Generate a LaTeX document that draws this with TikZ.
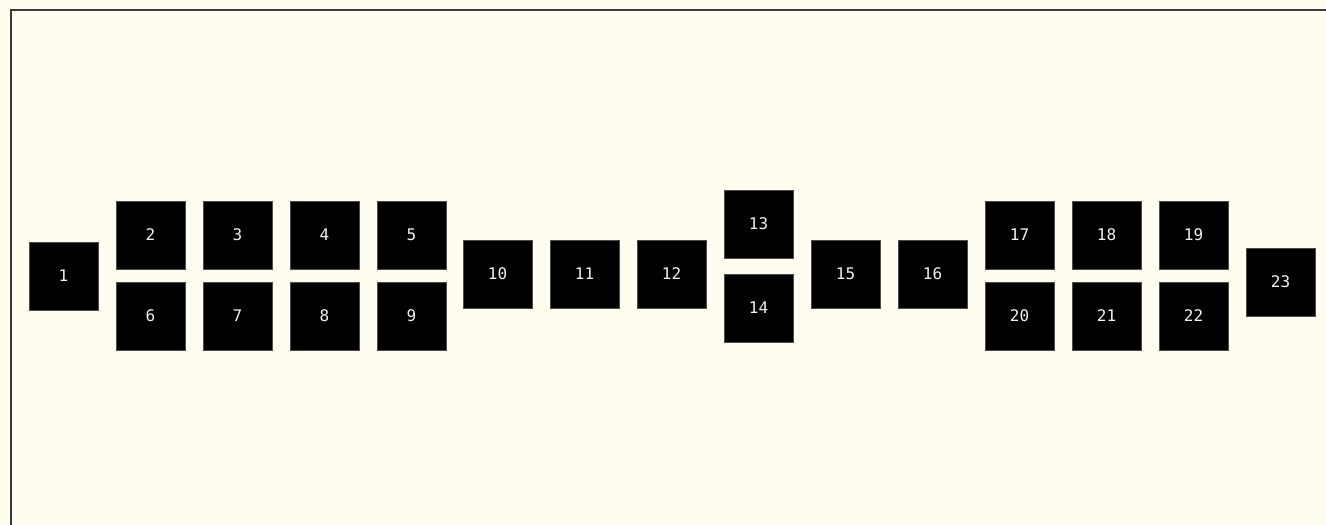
\documentclass[tikz,border=0pt]{standalone}
\usepackage{fontspec}
\setmonofont{DejaVu Sans Mono}
\usetikzlibrary{positioning}
\definecolor{ivory}{HTML}{FFFDF0}
\definecolor{framegray}{HTML}{3A3A3A}

\begin{document}
\begin{tikzpicture}[x=1pt, y=-1pt,
    blk/.style={fill=black, draw=black!70, text=black!5,
                font=\ttfamily\fontsize{16}{18}\selectfont,
                minimum width=69pt, minimum height=68pt, inner sep=0pt}
  ]
    \useasboundingbox[fill=ivory] (0,0) rectangle (1326,525);
    \draw[framegray, line width=2pt] (10.5,525) -- (10.5,9.5) -- (1326,9.5);

    \node[blk] (b1) at (63.5,276) {1};
    \foreach \n/\x in {2/150.5, 3/237.5, 4/324.5, 5/411.5}
      \node[blk] (b\n) at (\x,235) {\n};
    \foreach \n/\x in {6/150.5, 7/237.5, 8/324.5, 9/411.5}
      \node[blk] (b\n) at (\x,316) {\n};
    \node[blk] (b10) at (497.5,274) {10};
    \node[blk] (b11) at (584.5,274) {11};
    \node[blk] (b12) at (671.5,274) {12};
    \node[blk] (b13) at (758.5,224) {13};
    \node[blk] (b14) at (758.5,308) {14};
    \node[blk] (b15) at (845.5,274) {15};
    \node[blk] (b16) at (932.5,274) {16};
    \foreach \n/\x in {17/1019.5, 18/1106.5, 19/1193.5}
      \node[blk] (b\n) at (\x,235) {\n};
    \foreach \n/\x in {20/1019.5, 21/1106.5, 22/1193.5}
      \node[blk] (b\n) at (\x,316) {\n};
    \node[blk] (b23) at (1280.5,282) {23};
  \end{tikzpicture}
\end{document}
